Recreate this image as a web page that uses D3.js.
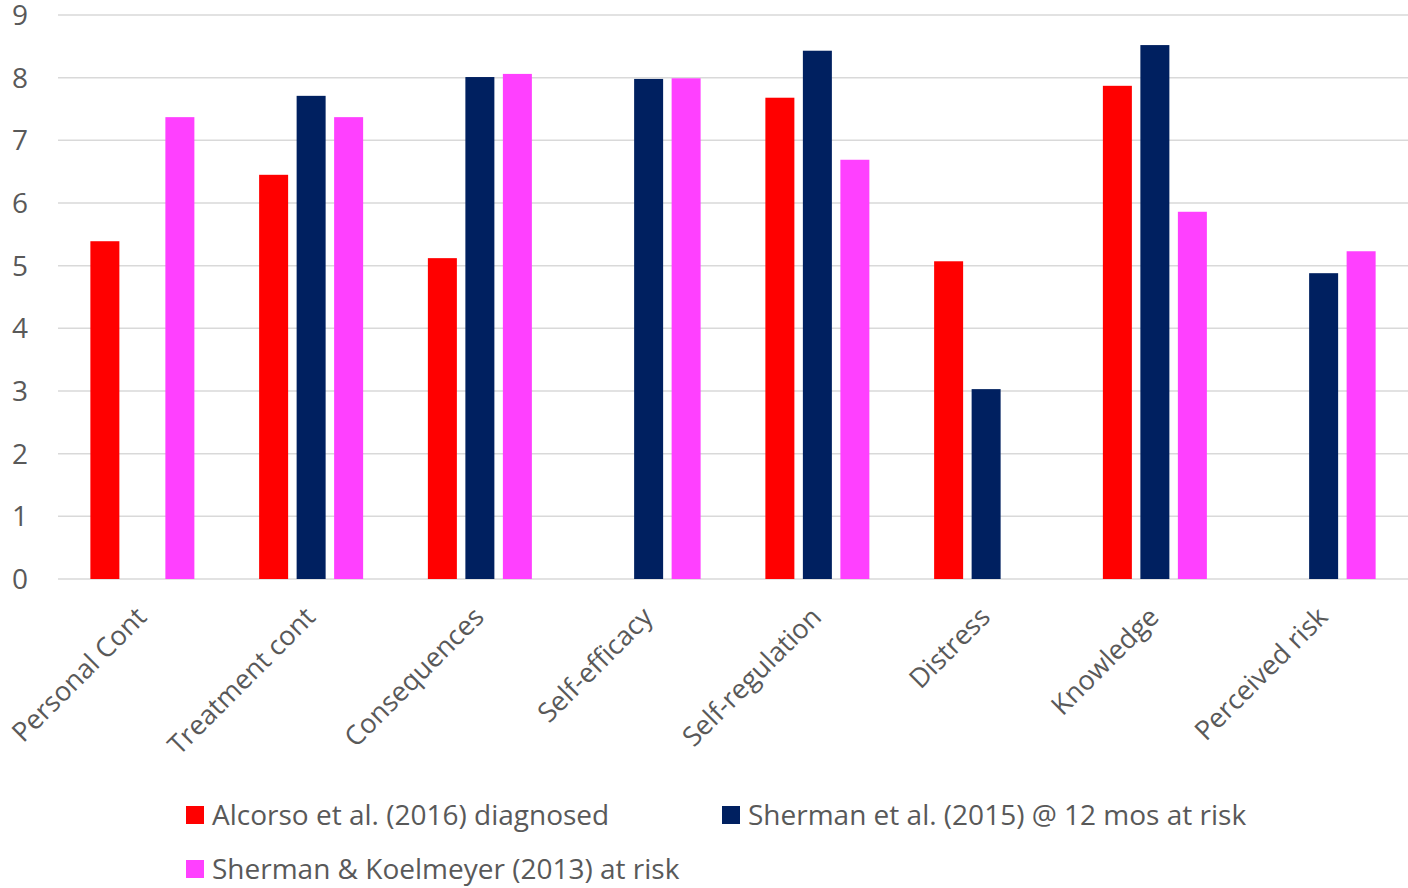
<!DOCTYPE html>
<html>
<head>
<meta charset="utf-8">
<script src="https://cdn.jsdelivr.net/npm/d3@7"></script>
<style>
  html, body { margin: 0; padding: 0; background: #fff; }
  svg { display: block; font-family: "Open Sans", sans-serif; }
</style>
</head>
<body>
<svg id="chart" width="1408" height="888"></svg>
<script>
// Scale scores by construct for three studies
const categories = ["Personal Cont", "Treatment cont", "Consequences", "Self-efficacy",
                    "Self-regulation", "Distress", "Knowledge", "Perceived risk"];
const seriesNames = ["Alcorso et al. (2016) diagnosed",
                     "Sherman et al. (2015) @ 12 mos at risk",
                     "Sherman & Koelmeyer (2013) at risk"];
const alcorso2016   = [5.39, 6.45, 5.12, null, 7.68, 5.07, 7.87, null];
const sherman2015   = [null, 7.71, 8.01, 7.98, 8.43, 3.03, 8.52, 4.88];
const koelmeyer2013 = [7.37, 7.37, 8.06, 7.99, 6.69, null, 5.86, 5.23];
const yTicks = [0, 1, 2, 3, 4, 5, 6, 7, 8, 9];
const colors = ["#FF0000", "#002060", "#FF40FF"];

const series = [alcorso2016, sherman2015, koelmeyer2013];

const svg = d3.select("#chart");
const margin = { left: 58, right: 0, top: 15, bottom: 309 };
const width = 1408, height = 888;

const x0 = d3.scaleBand()
  .domain(categories)
  .range([margin.left, width - margin.right])
  .paddingInner(0)
  .paddingOuter(0);

// Cluster of three bars centred in each category band
const clusterWidth = 104;
const clusterStart = (x0.bandwidth() - clusterWidth) / 2;
const x1 = d3.scaleBand()
  .domain(d3.range(series.length))
  .range([clusterStart, clusterStart + clusterWidth])
  .paddingInner(0.2267)
  .paddingOuter(0);

const y = d3.scaleLinear()
  .domain([0, 9])
  .range([height - margin.bottom, margin.top]);

// Horizontal gridlines
svg.append("g")
  .selectAll("line")
  .data(yTicks)
  .join("line")
  .attr("x1", margin.left)
  .attr("x2", width - margin.right)
  .attr("y1", d => y(d))
  .attr("y2", d => y(d))
  .attr("stroke", "#d9d9d9")
  .attr("stroke-width", 1.5);

// Y tick labels
svg.append("g")
  .selectAll("text")
  .data(yTicks)
  .join("text")
  .attr("x", 28)
  .attr("y", d => y(d))
  .attr("dy", "0.36em")
  .attr("text-anchor", "end")
  .attr("fill", "#595959")
  .style("font-size", "28px")
  .text(d => d);

// Bars
const groups = svg.append("g")
  .selectAll("g")
  .data(categories)
  .join("g")
  .attr("transform", d => `translate(${x0(d)},0)`);

groups.selectAll("rect")
  .data((c, i) => series.map((s, k) => ({ k, v: s[i] })).filter(d => d.v != null))
  .join("rect")
  .attr("x", d => x1(d.k))
  .attr("width", x1.bandwidth())
  .attr("y", d => y(d.v))
  .attr("height", d => y(0) - y(d.v))
  .attr("fill", d => colors[d.k]);

// Rotated category labels
svg.append("g")
  .selectAll("text")
  .data(categories)
  .join("text")
  .attr("transform", d => `translate(${x0(d) + x0.bandwidth() / 2 - 1},${y(0) + 33}) rotate(-45)`)
  .attr("text-anchor", "end")
  .attr("dy", "0.35em")
  .attr("fill", "#595959")
  .style("font-size", "27px")
  .text(d => d);

// Legend
const legendItems = [
  { name: seriesNames[0], color: colors[0], x: 186, y: 815 },
  { name: seriesNames[1], color: colors[1], x: 722, y: 815 },
  { name: seriesNames[2], color: colors[2], x: 186, y: 869 }
];
const lg = svg.append("g")
  .selectAll("g")
  .data(legendItems)
  .join("g")
  .attr("transform", d => `translate(${d.x},${d.y})`);
lg.append("rect")
  .attr("x", 0).attr("y", -9)
  .attr("width", 18).attr("height", 18)
  .attr("fill", d => d.color);
lg.append("text")
  .attr("x", 26)
  .attr("dy", "0.36em")
  .attr("fill", "#595959")
  .style("font-size", "28px")
  .text(d => d.name);
</script>
</body>
</html>
